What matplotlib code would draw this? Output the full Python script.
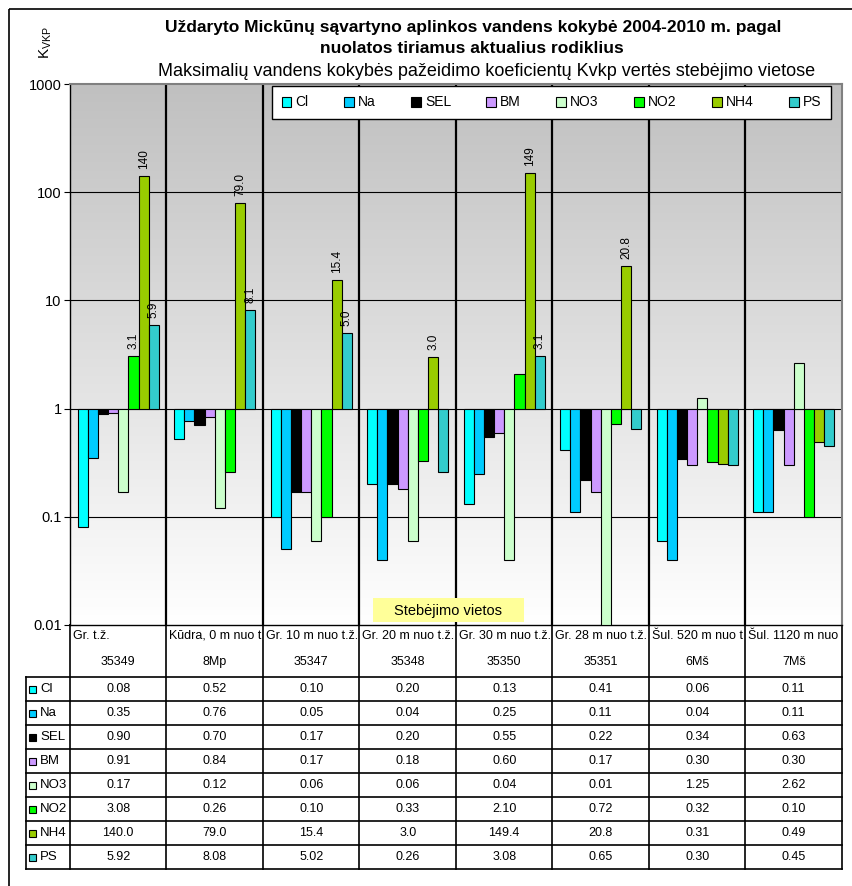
import numpy as np
import matplotlib
matplotlib.use("Agg")
import matplotlib.pyplot as plt
from matplotlib import font_manager
from matplotlib.patches import Rectangle
from matplotlib.colors import LinearSegmentedColormap
from matplotlib.ticker import NullLocator

names = {f.name for f in font_manager.fontManager.ttflist}
BASE = "Liberation Sans" if "Liberation Sans" in names else "DejaVu Sans"
NARROW = "Liberation Sans Narrow" if "Liberation Sans Narrow" in names else BASE
plt.rcParams["font.family"] = [BASE, "DejaVu Sans"]

# ---- data -------------------------------------------------------------
sites = ["Gr. t.ž.", "Kūdra, 0 m nuo t.ž.", "Gr. 10 m nuo t.ž.", "Gr. 20 m nuo t.ž.",
         "Gr. 30 m nuo t.ž.", "Gr. 28 m nuo t.ž.", "Šul. 520 m nuo t.ž.", "Šul. 1120 m nuo t.ž."]
codes = ["35349", "8Mp", "35347", "35348", "35350", "35351", "6Mš", "7Mš"]
indicators = ["Cl", "Na", "SEL", "BM", "NO3", "NO2", "NH4", "PS"]
cl = [0.08, 0.52, 0.10, 0.20, 0.13, 0.41, 0.06, 0.11]
na = [0.35, 0.76, 0.05, 0.04, 0.25, 0.11, 0.04, 0.11]
sel = [0.90, 0.70, 0.17, 0.20, 0.55, 0.22, 0.34, 0.63]
bm = [0.91, 0.84, 0.17, 0.18, 0.60, 0.17, 0.30, 0.30]
no3 = [0.17, 0.12, 0.06, 0.06, 0.04, 0.01, 1.25, 2.62]
no2 = [3.08, 0.26, 0.10, 0.33, 2.10, 0.72, 0.32, 0.10]
nh4 = [140.0, 79.0, 15.4, 3.0, 149.4, 20.8, 0.31, 0.49]
ps = [5.92, 8.08, 5.02, 0.26, 3.08, 0.65, 0.30, 0.45]
series = [cl, na, sel, bm, no3, no2, nh4, ps]
colors = ["#00FFFF", "#00CCFF", "#000000", "#CC99FF", "#CCFFCC", "#00FF00", "#99CC00", "#33CCCC"]
yticks = [0.01, 0.1, 1, 10, 100, 1000]
ytick_labels = ["0.01", "0.1", "1", "10", "100", "1000"]

title1 = "Uždaryto Mickūnų sąvartyno aplinkos vandens kokybė 2004-2010 m. pagal"
title2 = "nuolatos tiriamus aktualius rodiklius"
subtitle = "Maksimalių vandens kokybės pažeidimo koeficientų Kvkp vertės stebėjimo vietose"
xtitle = "Stebėjimo vietos"


def table_fmt(name, v):
    if name == "NH4" and v >= 1:
        return f"{v:.1f}"
    return f"{v:.2f}"


def bar_fmt(v):
    return f"{v:.0f}" if v >= 100 else f"{v:.1f}"


# ---- layout (pixel based) ----------------------------------------------
W, H = 853, 886
fig = plt.figure(figsize=(W / 100, H / 100), dpi=100)
renderer = fig.canvas.get_renderer()


def box(x0, y0, x1, y1):
    return [x0 / W, 1 - y1 / H, (x1 - x0) / W, (y1 - y0) / H]


frame = fig.add_axes([0, 0, 1, 1], zorder=0)
frame.set_xlim(0, W)
frame.set_ylim(H, 0)
frame.axis("off")

# chart border (top and left edges)
frame.plot([9, 9], [9, H], color="black", lw=1.2, solid_capstyle="butt")
frame.plot([9, W], [9, 9], color="black", lw=1.2, solid_capstyle="butt")

frame.text(473, 27, title1, ha="center", va="center", fontsize=12.5,
           fontweight="bold", family=[NARROW, "DejaVu Sans"])
frame.text(472, 48, title2, ha="center", va="center", fontsize=12.5,
           fontweight="bold", family=[NARROW, "DejaVu Sans"])
frame.text(487, 71, subtitle, ha="center", va="center", fontsize=13,
           family=[NARROW, "DejaVu Sans"])
frame.text(46, 42, r"K$_{\mathregular{VKP}}$", rotation=90, ha="center",
           va="center", fontsize=11)

# ---- main plot ---------------------------------------------------------
ax = fig.add_axes(box(70, 84, 842, 625), zorder=2)
cmap = LinearSegmentedColormap.from_list("bg", ["#C0C0C0", "#FFFFFF"])
ax.imshow(np.linspace(0, 1, 256).reshape(-1, 1), cmap=cmap, aspect="auto",
          extent=(0, 1, 0, 1), origin="upper", transform=ax.transAxes,
          zorder=0, interpolation="bilinear")
ax.set_yscale("log")
ax.set_xlim(-0.5, 7.5)
ax.set_ylim(0.01, 1000)

n = len(indicators)
bw = 0.84 / n
x = np.arange(len(sites))
handles = []
for j, (name, vals, c) in enumerate(zip(indicators, series, colors)):
    vals = np.asarray(vals, dtype=float)
    xj = x - 0.42 + bw * (j + 0.5)
    h = ax.bar(xj, vals - 1, bw, bottom=1, color=c, edgecolor="#000000",
               lw=0.8, zorder=3, label=name)
    handles.append(h)
    for xi, v in zip(xj, vals):
        if v >= 3:
            ax.annotate(bar_fmt(v), (xi, v), xytext=(0, 5),
                        textcoords="offset points", rotation=90, ha="center",
                        va="bottom", fontsize=8.5, zorder=4)

for v in yticks[1:-1]:
    ax.axhline(v, color="black", lw=0.8, zorder=1)
for k in range(1, len(sites)):
    ax.axvline(k - 0.5, color="black", lw=1.6, zorder=1)

ax.set_xticks([])
ax.set_yticks(yticks)
ax.set_yticklabels(ytick_labels)
ax.yaxis.set_minor_locator(NullLocator())
ax.tick_params(axis="y", length=4, width=0.8, labelsize=10.5, pad=2)
ax.spines["left"].set_color("black")
ax.spines["left"].set_linewidth(1.0)
ax.spines["bottom"].set_color("black")
ax.spines["bottom"].set_linewidth(1.0)
for s in ("top", "right"):
    ax.spines[s].set_color("#808080")
    ax.spines[s].set_linewidth(1.5)

leg = ax.legend(handles=handles, ncol=n, loc="center", mode="expand",
                bbox_to_anchor=((272 - 70) / 772, (625 - 123) / 541,
                                (831 - 272) / 772, 41 / 541),
                fontsize=10, handlelength=0.7, handleheight=0.7,
                handletextpad=0.3, borderaxespad=0, fancybox=False,
                framealpha=1, edgecolor="black", borderpad=0.7)
leg.get_frame().set_linewidth(1.0)

# axis title box
ax.add_patch(Rectangle((373, 598), 151, 24, transform=frame.transData,
                       facecolor="#FFFF99", edgecolor="none", zorder=8,
                       clip_on=False))
ax.text(448.5, 610.5, xtitle, transform=frame.transData, ha="center",
        va="center", fontsize=10.5, zorder=9, clip_on=False)

# ---- data table ---------------------------------------------------------
tax = fig.add_axes(box(70, 625, 842, 869), zorder=1)
tax.set_xlim(-0.5, 7.5)
tax.set_ylim(244, 0)
tax.axis("off")
col_px = 772 / len(sites)
u = 1 / col_px  # one pixel in column units
head = 52
rh = 24
key_left = -0.5 - 44 * u
lkw = dict(color="black", lw=1.2, solid_capstyle="projecting", clip_on=False)

tax.plot([-0.5, 7.5], [0, 0], **lkw)
for r in range(len(indicators) + 1):
    y = head + rh * r
    tax.plot([key_left, 7.5], [y, y], **lkw)
for k in range(len(sites) + 1):
    tax.plot([k - 0.5, k - 0.5], [0, head + rh * n], **lkw)
tax.plot([key_left, key_left], [head, head + rh * n], **lkw)

# column headers: names are cut at the cell's right edge, like a sheet cell
for i, (s, c) in enumerate(zip(sites, codes)):
    t = tax.text(i - 0.5 + 3 * u, 11, s, ha="left", va="center", fontsize=9)
    shown = s
    while t.get_window_extent(renderer).width > col_px - 4 and len(shown) > 1:
        shown = shown[:-1]
        t.set_text(shown.rstrip())
    tax.text(i, 37, c, ha="center", va="center", fontsize=9)

for r, (name, vals, c) in enumerate(zip(indicators, series, colors)):
    yc = head + rh * r + rh / 2
    tax.add_patch(Rectangle((key_left + 3 * u, yc - 3.5), 7 * u, 7,
                            facecolor=c, edgecolor="black", lw=0.8,
                            clip_on=False))
    tax.text(key_left + 14 * u, yc + 0.5, name, ha="left", va="center",
             fontsize=9.5, clip_on=False)
    for i, v in enumerate(vals):
        tax.text(i, yc + 0.5, table_fmt(name, v), ha="center", va="center",
                 fontsize=9)

fig.savefig("out.png", dpi=100, facecolor="white")
